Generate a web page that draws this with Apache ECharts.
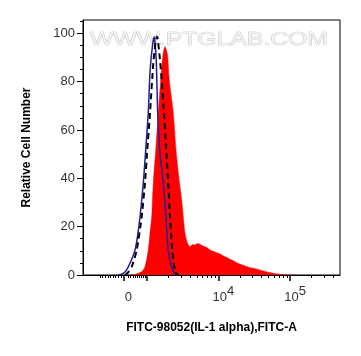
<!DOCTYPE html>
<html>
<head>
<meta charset="utf-8">
<script src="https://cdn.jsdelivr.net/npm/echarts@6/dist/echarts.min.js"></script>
<style>
html,body{margin:0;padding:0;background:#fff;}
#chart{width:361px;height:356px;}
</style>
</head>
<body>
<div id="chart"></div>
<script>
// x positions are in display "decade" units: 3 = 10^3, 4 = 10^4, 5 = 10^5 (biexponential axis)
const xRange = [2.1116, 5.696];
const yRange = [0, 105.5];

// Red filled histogram: FITC-98052 (IL-1 alpha) stained
const stainedSeries = [[2.767,0],[2.837,0.2],[2.907,1],[2.930,1.3],[2.976,3.4],[3.022,10.3],[3.046,17.4],[3.070,24.1],[3.092,38.1],[3.126,51.7],[3.162,67],[3.195,80.7],[3.227,91],[3.255,94.5],[3.290,91],[3.315,80.7],[3.371,67],[3.409,51.7],[3.444,41.4],[3.488,31],[3.534,17.3],[3.569,13.2],[3.604,11.7],[3.639,12.6],[3.674,12.4],[3.708,13],[3.743,12.7],[3.778,12.1],[3.813,11.7],[3.848,11.2],[3.883,10.3],[3.93,9.8],[3.976,9.2],[4.02,8.8],[4.068,7.9],[4.115,7.3],[4.162,6.5],[4.21,5.9],[4.255,5.1],[4.31,4.4],[4.371,3.7],[4.43,3.1],[4.487,2.8],[4.55,2.3],[4.626,1.7],[4.70,1.1],[4.766,0.7],[4.84,0.4],[4.905,0.1],[5.092,0]];

// Blue solid line: blank control
const blankSeries = [[2.60,0],[2.651,0.3],[2.697,1.2],[2.743,3.4],[2.791,6.5],[2.837,10.3],[2.872,16],[2.907,24.1],[2.953,38.1],[2.986,51.7],[3.022,67],[3.046,84],[3.081,95],[3.106,98.6],[3.134,88],[3.153,67],[3.181,51.7],[3.232,38.1],[3.269,24.1],[3.301,10.3],[3.349,3.4],[3.395,0.3],[3.437,0]];

// Black dashed line: isotype control
const isotypeSeries = [[2.697,0],[2.739,1],[2.791,3.4],[2.861,10.3],[2.930,24.1],[2.976,38.1],[3.008,51.7],[3.046,67],[3.092,87.7],[3.123,96],[3.144,98.7],[3.179,91],[3.209,80.7],[3.241,67],[3.272,51.7],[3.301,38.1],[3.325,24.1],[3.357,10.3],[3.385,3.4],[3.418,0.3],[3.45,0]];

// Axis ticks and labels
const xMajorTicks = [2.674, 3, 4, 5];
const xLabelValues = [2.674, 4, 5];
const xLabelTexts = ['0', '10^4', '10^5'];
const xLinearMinorTicks = [2.349,2.385,2.421,2.457,2.494,2.530,2.566,2.603,2.639,2.739,2.774,2.809,2.841,2.872,2.901,2.929,2.955,2.979];
const logMultipliers = [2,3,4,5,6,7,8,9];
const logDecades = [3,4,5];
const yMajorTicks = [0,20,40,60,80,100];
const yMinorTicks = [5,10,15,25,30,35,45,50,55,65,70,75,85,90,95,105];

const xLogMinor = [];
logDecades.forEach(d => logMultipliers.forEach(m => {
  const v = d + Math.log10(m);
  if (v < xRange[1]) xLogMinor.push(+v.toFixed(4));
}));
const xMinorTicks = xLinearMinorTicks.concat(xLogMinor);

const labelFont = 'Liberation Sans, Arial, sans-serif';

function xLabelFormatter(val) {
  let idx = -1;
  xLabelValues.forEach((v, i) => { if (Math.abs(v - val) < 1e-6) idx = i; });
  if (idx < 0) return '';
  const t = xLabelTexts[idx];
  if (t.indexOf('^') >= 0) {
    const p = t.split('^');
    return '{b|' + p[0] + '}{s|' + p[1] + '}';
  }
  return '{b|' + t + '}';
}

const chart = echarts.init(document.getElementById('chart'), null, {renderer: 'canvas'});

// watermark width fitting
const wmText = 'WWW.PTGLAB.COM';
const cv = document.createElement('canvas').getContext('2d');
cv.font = '18px "Liberation Sans"';
const wmW = cv.measureText(wmText).width || 175;
const wmScale = 238 / wmW;

const option = {
  animation: false,
  backgroundColor: '#ffffff',
  grid: {left: 83, right: 21, top: 20, bottom: 81, show: true, borderColor: '#000', borderWidth: 1, backgroundColor: 'transparent'},
  graphic: [{
    type: 'text', z: 0, x: 90, y: 31,
    scaleX: wmScale,
    style: {text: wmText, font: '18px "Liberation Sans"', fill: '#f2f2f2', stroke: '#bdbdbd', lineWidth: 0.7}
  }],
  xAxis: [{
    type: 'value', min: xRange[0], max: xRange[1],
    axisLine: {show: true, onZero: false, lineStyle: {color: '#000', width: 1}},
    axisTick: {show: true, length: 6, customValues: xMajorTicks, lineStyle: {color: '#000', width: 1.5}},
    axisLabel: {show: true, customValues: xLabelValues, formatter: xLabelFormatter, margin: 10,
      rich: {
        b: {fontFamily: labelFont, fontSize: 13, color: '#333', padding: [6,0,0,0]},
        s: {fontFamily: labelFont, fontSize: 13, color: '#333', verticalAlign: 'top', padding: [0,0,0,0]}
      },
      padding: [0,0,0,10]
    },
    splitLine: {show: false},
    name: 'FITC-98052(IL-1 alpha),FITC-A', nameLocation: 'middle', nameGap: 47,
    nameTextStyle: {fontFamily: labelFont, fontWeight: 'bold', fontSize: 12, color: '#000'}
  }, {
    type: 'value', min: xRange[0], max: xRange[1], position: 'bottom',
    axisLine: {show: false},
    axisTick: {show: true, length: 3, customValues: xMinorTicks, lineStyle: {color: '#000', width: 1}},
    axisLabel: {show: false},
    splitLine: {show: false}
  }],
  yAxis: [{
    type: 'value', min: yRange[0], max: yRange[1],
    axisLine: {show: true, onZero: false, lineStyle: {color: '#000', width: 1}},
    axisTick: {show: true, length: 6, customValues: yMajorTicks, lineStyle: {color: '#000', width: 1}},
    axisLabel: {show: true, customValues: yMajorTicks, margin: 8, fontFamily: labelFont, fontSize: 13, color: '#333'},
    splitLine: {show: false},
    name: 'Relative Cell Number', nameLocation: 'middle', nameGap: 50,
    nameTextStyle: {fontFamily: labelFont, fontWeight: 'bold', fontSize: 12, color: '#000'}
  }, {
    type: 'value', min: yRange[0], max: yRange[1], position: 'left',
    axisLine: {show: false},
    axisTick: {show: true, length: 3, customValues: yMinorTicks, lineStyle: {color: '#000', width: 1}},
    axisLabel: {show: false},
    splitLine: {show: false}
  }],
  series: [{
    type: 'line', name: 'Stained', data: stainedSeries, xAxisIndex: 0, yAxisIndex: 0,
    showSymbol: false, symbol: 'none', smooth: 0.25, z: 3,
    lineStyle: {color: '#ff0000', width: 0.5},
    areaStyle: {color: '#ff0000', opacity: 1}
  }, {
    type: 'line', name: 'Blank', data: blankSeries, xAxisIndex: 0, yAxisIndex: 0,
    showSymbol: false, symbol: 'none', smooth: 0.2, z: 4,
    lineStyle: {color: '#1f1f96', width: 1.5}
  }, {
    type: 'line', name: 'Isotype', data: isotypeSeries, xAxisIndex: 0, yAxisIndex: 0,
    showSymbol: false, symbol: 'none', smooth: 0.2, z: 5,
    lineStyle: {color: '#000', width: 2, type: [6, 4]}
  }]
};
chart.setOption(option);
</script>
</body>
</html>
